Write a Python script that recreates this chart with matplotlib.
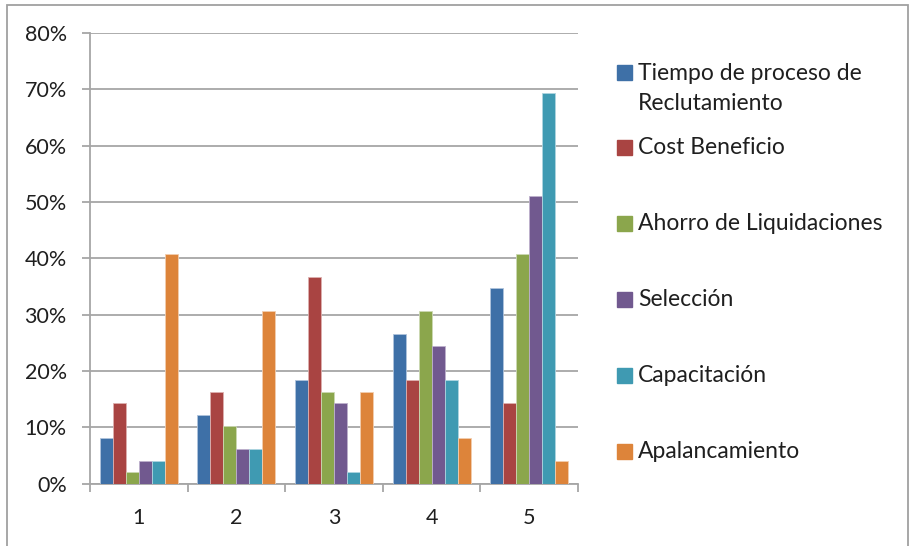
import matplotlib
matplotlib.use("Agg")
import matplotlib.pyplot as plt
from matplotlib.patches import Rectangle
import numpy as np

plt.rcParams['font.family'] = ['Lato', 'DejaVu Sans']

categories = ["1", "2", "3", "4", "5"]
series_names = [
    "Tiempo de proceso de\nReclutamiento",
    "Cost Beneficio",
    "Ahorro de Liquidaciones",
    "Selección",
    "Capacitación",
    "Apalancamiento",
]
tiempo = [8.16, 12.24, 18.37, 26.53, 34.69]
cost_beneficio = [14.29, 16.33, 36.73, 18.37, 14.29]
ahorro = [2.04, 10.20, 16.33, 30.61, 40.82]
seleccion = [4.08, 6.12, 14.29, 24.49, 51.02]
capacitacion = [4.08, 6.12, 2.04, 18.37, 69.39]
apalancamiento = [40.82, 30.61, 16.33, 8.16, 4.08]
y_ticks = [0, 10, 20, 30, 40, 50, 60, 70, 80]

series_values = [tiempo, cost_beneficio, ahorro, seleccion, capacitacion, apalancamiento]
colors = ["#3E70A7", "#A94442", "#8BA64C", "#71598F", "#3F9AB2", "#DD843A"]
edge_colors = ["#AFC3DC", "#DDB0AF", "#CCD9B3", "#BDB0CC", "#AED5E0", "#F2CDAF"]

text_color = "#1F1F1F"
grid_color = "#A6A6A6"
fs_tick = 15.5
fs_leg = 16.5

fig = plt.figure(figsize=(9.10, 5.46), dpi=100)
ax = fig.add_axes([90 / 910, 62.5 / 546, 488 / 910, 450.5 / 546])

n = len(series_values)
bar_w = 1.0 / (n + 1.5)
x = np.arange(len(categories))
for i, (vals, c, ec) in enumerate(zip(series_values, colors, edge_colors)):
    offs = (i - (n - 1) / 2) * bar_w
    ax.bar(x + offs, vals, width=bar_w, color=c, edgecolor=ec,
           linewidth=0.6, zorder=3)

ax.set_xlim(-0.5, len(categories) - 0.5)
ax.set_ylim(0, 80)
ax.set_yticks(y_ticks)
ax.set_yticklabels([f"{v}%" for v in y_ticks], fontsize=fs_tick, color=text_color)
ax.yaxis.grid(True, color=grid_color, linewidth=1.3, zorder=0)
ax.set_axisbelow(True)

ax.set_xticks(x)
ax.set_xticklabels(categories, fontsize=fs_tick, color=text_color)
ax.set_xticks(np.arange(len(categories) + 1) - 0.5, minor=True)
ax.tick_params(axis='x', which='major', length=0, pad=18)
ax.tick_params(axis='x', which='minor', length=5.8, width=1.3,
               color=grid_color, direction='out')
ax.tick_params(axis='y', which='major', length=5.8, width=1.3,
               color=grid_color, direction='out', pad=11)

for side in ("top", "right"):
    ax.spines[side].set_visible(False)
for side in ("left", "bottom"):
    ax.spines[side].set_color(grid_color)
    ax.spines[side].set_linewidth(1.3)

# legend: colored squares with labels, multi-line labels split per line
legend_y = [72, 147, 223, 299, 375, 451]
line_step = 30
W, H = 910, 546
for name, c, yy in zip(series_names, colors, legend_y):
    fig.patches.append(Rectangle((617 / W, 1 - (yy + 7.5) / H), 15 / W, 15 / H,
                                 transform=fig.transFigure, color=c))
    for k, line in enumerate(name.split("\n")):
        fig.text(638 / W, 1 - (yy + 1 + k * line_step) / H, line, fontsize=fs_leg,
                 color=text_color, va='center', ha='left')

# chart frame
fig.patches.append(Rectangle((7 / W, -0.05), 901 / W, 1.05 - 5 / H,
                             transform=fig.transFigure, fill=False,
                             edgecolor="#A0A0A0", linewidth=1.3))

fig.savefig("out.png", dpi=100)
